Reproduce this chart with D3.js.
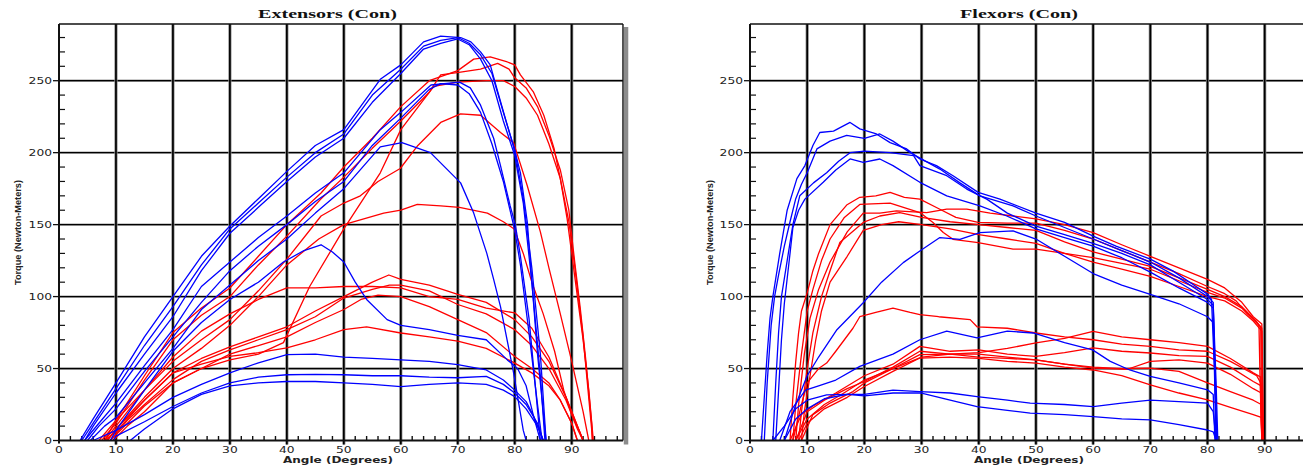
<!DOCTYPE html>
<html>
<head>
<meta charset="utf-8">
<script src="https://cdn.jsdelivr.net/npm/d3@7"></script>
<style>
  html, body { margin: 0; padding: 0; background: #fff; }
  svg { display: block; }
</style>
</head>
<body>
<svg id="chart" width="1303" height="465"></svg>
<script>
// Axis ticks
const angleTicks = [0, 10, 20, 30, 40, 50, 60, 70, 80, 90];
const torqueTicks = [0, 50, 100, 150, 200, 250];

// Extensor trials, [angle (deg), torque (N·m)]
const extensorBlue = [
  [[3.7,0],[6,15],[10,40],[15,72],[20,100],[25,128],[30,149],[35,168],[40,187],[45,205],[50,216],[56.4,251],[60,261],[64,277],[67,281],[70.5,280],[72.3,277],[74,270],[75.7,261],[76.9,244],[78.7,219],[80.1,200],[81,186],[82.2,152],[82.7,126],[84,60],[85.5,0]],
  [[4,0],[6,12],[10,36],[15,66],[20,93],[25,122],[30,147],[35,165],[40,183],[45,200],[50,213],[55,240],[60,258],[64,274],[67,278],[70,280],[72,276],[74,268],[76,255],[78,228],[80,202],[81.5,168],[83,120],[84.5,60],[85.5,0]],
  [[4.5,0],[6,10],[10,33],[15,60],[20,86],[25,118],[30,144],[35,162],[40,180],[45,197],[50,210],[55,235],[60,255],[64,272],[67,276],[70,279],[72,275],[74,265],[76,250],[78,222],[80,198],[81.5,165],[83,110],[84.5,45],[85.3,0]],
  [[4.5,0],[7,12],[10,26],[15,52],[20,77],[25,107],[30,124],[35,141],[40,156],[45,172],[50,186],[56.4,216],[60,228],[65.3,247],[70.3,249],[72.2,245],[74,233],[76.3,210],[77.5,191],[79.2,163],[80.1,150],[81,128],[82.5,85],[83.8,30],[84.5,0]],
  [[5,0],[7,10],[10,22],[15,48],[20,72],[25,96],[30,118],[35,135],[40,150],[45,166],[50,180],[55,205],[60,224],[65,244],[67,248],[70,247],[72,241],[74,228],[76,206],[78,180],[80,146],[81,122],[82.5,75],[84,25],[84.8,0]],
  [[5.5,0],[8,10],[10,16],[15,40],[20,64],[25,91],[30,108],[35,125],[40,140],[45,158],[50,175],[56.4,204],[60.2,207],[65.2,200],[70.5,179],[72.8,158],[75.1,130],[76.3,112],[77.5,93],[79.8,47],[81.5,7],[82,0]],
  [[6,0],[10,7],[15,35],[20,62],[25,82],[30,98],[35,110],[39.4,124],[43,132],[46,136],[48,131],[50,124],[52,110],[54,98],[57.6,84],[60,80],[65,77],[70,73],[75,70],[78.7,56],[80.5,50],[82,38],[83.3,17],[84.5,0]],
  [[9,0],[10,7],[15,18],[20,30],[25,39],[30,47],[35,54],[40,59.6],[45,60],[50,58],[55,57],[60,56],[65,55],[70,52.7],[75,49],[78,42],[80,35],[82,27],[83.3,17],[84.5,5],[85,0]],
  [[9.5,0],[10,3],[15,13],[20,23.6],[25,33],[30,40],[35,44],[40,45.7],[45,46],[50,45.7],[55,45],[60,45],[65,44],[70,43.6],[75,44.5],[78,39],[80,33],[82,25],[84,12],[85,0]],
  [[12.5,0],[15,8],[20,22],[25,32],[30,38],[35,40],[40,41],[45,41],[50,40],[55,39],[60,37.5],[65,39],[70,40],[75,39],[78,35],[80,30.5],[82,22],[84,10],[85,0]]
];
const extensorRed = [
  [[7,0],[10,14],[15,45],[20,75],[25,92],[30,106],[35,128],[40,150],[46,172],[50,190],[55,210],[60,232],[65,250],[70,257],[72.8,265],[75.7,266.5],[78.7,263],[80,261],[81,254],[83.3,242],[85.1,226],[86.9,203],[88,182],[89.2,154],[90,130],[91,100],[92,70],[93,35],[93.8,0]],
  [[7.5,0],[10,12],[15,42],[20,70],[25,87],[30,100],[35,122],[40,142],[46,168],[50,183],[55,203],[60,222],[65,242],[67,254],[70.5,256],[74,258],[77,262],[79,258],[80,252],[82,245],[84,232],[86,212],[88,188],[89.5,160],[90.5,125],[91.5,92],[92.5,55],[93.5,12],[93.7,0]],
  [[9,0],[12,12],[15,24],[20,40],[25,50],[30,56],[35,60],[39.4,68],[44,107],[50,147],[56.4,186],[60,216],[65.8,246],[70,249],[75,250],[78,250],[80,246],[82,238],[84,226],[86,206],[88,182],[89.5,152],[90.5,122],[92,72],[93.5,8],[93.6,0]],
  [[8,0],[10,10],[15,35],[20,55],[25,70],[30,84],[35,104],[40,126],[46,156],[50,165],[52.9,170],[56,180],[59.9,189],[63,205],[67,221],[70.5,227],[74,226],[77.5,214],[79.8,207],[82.2,177],[84.5,145],[86,120],[88,88],[90,55],[92,20],[93,0]],
  [[8.5,0],[10,8],[15,30],[20,50],[25,64],[30,80],[35,100],[40,122],[45.6,140],[50,150],[57,158],[60,160],[62.9,164],[67,163],[70.3,162],[75.2,158],[78,152],[79.9,147],[81.5,130],[83,110],[85,88],[87,62],[88.6,35],[90,18],[91.5,5],[92,0]],
  [[8,0],[10,14],[15,35],[20,58],[25,76],[30,88],[35,98],[40,106],[45,106],[50,107],[55,107],[60,106],[65,100],[70,98],[75,92],[80,88.7],[83,78],[86,58],[89,30],[91,10],[92,0]],
  [[8.5,0],[10,8],[15,28],[20,47],[25,57],[30,65],[35,72],[40,79],[45,90],[50,100],[55,110],[57.9,115],[60,112],[65,108],[70,101.5],[75,96],[80,84],[83,72],[86,55],[89,30],[91,10],[92,0]],
  [[9,0],[12,14],[15,25],[20,42.3],[25,55],[30,63],[35,70],[40,77],[45,86],[50,99],[55,105],[58,108],[60,108],[65,104],[70,94.5],[75,88],[80,77],[83,66],[86,50],[89,28],[91,8],[92,0]],
  [[9.5,0],[12,10],[15,20],[20,40],[25,50],[30,60],[35,66],[40,72],[45,82],[50,91],[53,98],[56,101],[60,100],[65,93],[70,84],[75,75],[80,58.4],[83,50],[86,40],[88,28],[90,12],[91,0]],
  [[8,0],[10,6],[15,28],[20,46.9],[25,53],[30,58.4],[35,61],[40,64.3],[45,70],[50,77],[54,79],[60,74.7],[65,72],[70,69],[75,64],[80,53.8],[83,47],[86,38],[88,28],[90,12],[91,0]]
];

// Flexor trials, [angle (deg), torque (N·m)]
const flexorBlue = [
  [[2,0],[2.5,30],[3,60],[3.5,85],[4,100],[5.2,130],[6.5,160],[8.2,182],[9.6,191],[11,205],[12.2,214],[14.6,215],[17.5,221],[19.2,216.5],[22.1,213],[24.5,207],[27.4,202.6],[29.7,195.6],[32.6,191],[35.5,184],[39.9,172.4],[43.7,167.7],[50,158],[55,151.5],[60,142],[64,135],[70,126],[74,117.7],[78,107],[80,101.7],[80.7,98],[81.2,50],[81.5,0]],
  [[2.5,0],[3,40],[3.7,80],[4.3,100],[5,115],[6,135],[7,152],[8,168],[9,178],[10,186],[11.7,202.6],[14,208],[16.9,212],[20,210],[22.7,213],[25,208],[28,200],[33.2,188.6],[36.7,179],[40.2,170],[46,163],[50,156],[55,148],[60,140],[65,132],[70,124],[75,113],[80,100],[81,96],[81.3,40],[81.6,0]],
  [[4,0],[4.5,40],[5,75],[5.5,100],[6.5,125],[7.5,150],[8.7,170],[11.1,179],[13.4,186],[15.5,194],[17.5,200],[20,201],[24.5,200],[28.6,198],[29.7,191],[34.4,184],[37.9,174.7],[41.4,167.7],[45,158],[50,149],[55,143],[60,137],[65,130],[70,122],[75,110],[80,98],[81,94],[81.5,40],[81.8,0]],
  [[4.5,0],[5,35],[5.5,70],[6,95],[7,130],[7.5,148],[8.5,160],[9.6,167.7],[12.8,179.4],[15,188],[17.5,195.6],[19.8,193.3],[22.7,195.6],[25,191],[29.7,179.4],[34.4,170],[40.2,163],[44.9,156],[50,147],[55,141],[60,135],[65,127],[70,117],[75,106],[80,96],[81,92],[81.4,40],[81.6,0]],
  [[6,0],[8,25],[10,45],[12,58],[15.2,77],[19.8,95.7],[23,110],[26.8,123.6],[29.7,131.7],[33.2,141],[36.7,139.8],[40.2,144.5],[46,145.6],[50,140],[55,128],[60,116],[65,108],[70,101.5],[75,95],[80,86],[81,82],[81.4,30],[81.5,0]],
  [[5.2,0],[7,20],[9.7,35],[12,38],[15,42],[19.2,51.5],[25,60],[29.7,70],[34.4,76],[39.7,71.3],[45,76],[49.5,74.7],[55,68],[59.9,63],[63,55],[66.4,49],[70,44.5],[75,40],[80,35.2],[81,32],[81.3,0]],
  [[4,0],[6,10],[8,22],[10,28],[13.4,31.7],[17,32],[20,32],[25,35],[29.7,34],[35,33],[39.7,30.5],[45,28],[49,26],[55,25],[60,23.6],[65,26],[70,28],[75,27],[80,26],[81,20],[81.5,0]],
  [[6,0],[8,15],[10,22],[13,29],[17,32],[20,31],[25,33],[30,33],[35,28],[39.7,23.6],[45,21],[49,19],[55,18],[60,16.6],[65,15],[70,14.3],[75,11],[80,7.3],[81,6],[81.5,0]]
];
const flexorRed = [
  [[7,0],[7.5,30],[8,55],[8.5,75],[9,90],[10,102.6],[11,118],[12,130],[14,150],[16.9,163.6],[19.2,169],[22,170],[24.5,172.4],[27,169],[29.7,167.7],[33.2,160.7],[36,155],[39.9,151.5],[45,151],[50,151],[55,146],[60,140],[65,132],[70,124],[75,116],[80,107],[83,102],[85,97],[87,88],[88.5,83],[89,80],[89.2,40],[89.5,0]],
  [[7.5,0],[8,25],[9,60],[10,90],[11,105],[12.5,125],[14,140],[16.5,155],[19.2,164],[24.5,165],[29.7,158.4],[32,151.5],[33.8,144.5],[35.5,139.8],[39.9,137.5],[46,133],[50,133],[55,130],[60,127],[65,123],[70,119],[75,111],[80,103],[83,99],[86,92],[88,84],[89.3,79],[89.5,0]],
  [[8,0],[8.5,25],[9.5,60],[10.5,85],[12,105],[14,124],[17,145],[19.8,158],[22.7,158],[25.6,159.6],[30.9,158.4],[34.4,160.7],[37.9,160.7],[42,158],[46,156],[50,154],[55,150],[60,144.5],[65,136],[70,128],[75,120],[80,112],[83,106],[86,96],[88,86],[89.5,81],[89.7,0]],
  [[8.5,0],[9,20],[10,50],[11,75],[12.5,100],[14,118],[15.7,137.5],[19.8,151.5],[22.7,156],[26.2,158.4],[30,155],[35,152],[40,150],[45,148],[50,146],[55,138],[60,131],[65,126],[70,121],[75,113],[80,105],[83,100],[86,93],[88,85],[89.5,78],[89.7,0]],
  [[9,0],[9.5,20],[10.5,45],[11.5,70],[12.5,90],[14,110],[17,128],[19.8,146],[23,150],[26,152],[30,150],[35,147],[40,143],[45,140],[50,137],[55,130],[60,124],[65,119],[70,114],[75,107],[80,100],[83,97],[86,90],[88,83],[89.5,76],[89.8,0]],
  [[7.5,0],[9,25],[10,40],[12,50],[13.4,53.8],[15,62],[18,78],[19.2,86],[22,89],[25,92],[28,89],[29.7,87.5],[33,86],[38.5,84],[39.7,79],[45,78],[50,74.7],[55,72],[60,70],[65,67],[70,65.4],[75,63],[80,62],[84,55],[88.6,45],[89.3,40],[89.5,0]],
  [[8,0],[10,15],[13,25],[16,32],[20,42],[25,50],[30,58],[35,60],[40,61],[45,64],[50,67.8],[55,71],[60,75.9],[65,72],[70,70],[75,68],[80,65.4],[84,57],[88,47],[89.3,44],[89.5,0]],
  [[7,0],[9,18],[11,24],[15,33],[20,45],[25,53],[29.7,65.4],[35,62],[40,63],[45,60],[50,58.5],[55,61],[60,64.3],[65,62],[70,60.8],[75,59],[80,58.5],[84,51],[88,41],[89.4,38],[89.5,0]],
  [[8,0],[10,20],[13,28],[17,36],[20,41],[25,51],[29.7,62],[35,60],[40,58],[45,57],[50,56],[55,53],[60,50.3],[63,50],[66,49.5],[70,55],[75,56],[80,53.8],[84,46],[88,36],[89.4,33],[89.5,0]],
  [[8.5,0],[10,12],[13,22],[17,30],[20,37.5],[25,48],[29.7,57.3],[35,58],[40,57],[45,55],[50,53.8],[55,51],[60,49],[65,45],[70,38.7],[75,33],[80,28.2],[84,23],[88,18],[89.4,16],[89.5,0]],
  [[9,0],[11,18],[14,26],[18,34],[20,40],[25,50],[29.7,59.7],[35,60],[40,60],[45,58],[50,56],[55,53],[60,51],[65,50],[70,50.3],[75,48],[80,40],[84,34],[88,28],[89.4,25],[89.5,0]]
];

// Panel layout
const panels = [
  { title: "Extensors (Con)", blue: extensorBlue, red: extensorRed,
    x0: 59, x90: 571.7, titleX: 327.5, titleW: 139, yLabelX: 18, closed: true },
  { title: "Flexors (Con)", blue: flexorBlue, red: flexorRed,
    x0: 750, x90: 1264.7, titleX: 1019, titleW: 118, yLabelX: 710, closed: false }
];

const svg = d3.select("#chart");
const plotTop = 24;
const angleMax = 99;
const y = d3.scaleLinear().domain([0, 250]).range([440.5, 80.7]);
const plotBottom = y(0);

panels.forEach(p => {
  const x = d3.scaleLinear().domain([0, 90]).range([p.x0, p.x90]);
  const xRight = x(angleMax);
  const g = svg.append("g");

  // drop shadow on the right edge of the frame
  if (p.closed) {
    g.append("rect")
      .attr("x", xRight + 0.8).attr("y", plotTop + 3)
      .attr("width", 4.5).attr("height", plotBottom - plotTop + 1)
      .attr("fill", "#8c8c8c");
  }

  // horizontal grid
  const hTicks = torqueTicks.filter(t => t > 0);
  [["#9a9a9a", 2.4], ["#000", 1.2]].forEach(([c, w]) => {
    g.selectAll(null).data(hTicks).join("line")
      .attr("x1", x(0)).attr("x2", xRight)
      .attr("y1", d => y(d)).attr("y2", d => y(d))
      .attr("stroke", c).attr("stroke-width", w);
  });

  // vertical grid
  const vTicks = angleTicks.filter(t => t > 0);
  [["#8f8f8f", 3.2], ["#000", 1.7]].forEach(([c, w]) => {
    g.selectAll(null).data(vTicks).join("line")
      .attr("x1", d => x(d)).attr("x2", d => x(d))
      .attr("y1", plotTop).attr("y2", plotBottom + 4)
      .attr("stroke", c).attr("stroke-width", w);
  });

  // minor ticks on the torque axis (inside), every 10
  g.selectAll(null).data(d3.range(10, 290, 10).filter(v => v % 50 !== 0)).join("line")
    .attr("x1", x(0)).attr("x2", x(0) + 6)
    .attr("y1", d => y(d)).attr("y2", d => y(d))
    .attr("stroke", "#111").attr("stroke-width", 1.2);
  // major ticks on the torque axis (outside)
  g.selectAll(null).data(torqueTicks).join("line")
    .attr("x1", x(0) - 6).attr("x2", x(0))
    .attr("y1", d => y(d)).attr("y2", d => y(d))
    .attr("stroke", "#111").attr("stroke-width", 1.3);

  // minor ticks on the angle axis (inside), every 2 degrees
  g.selectAll(null).data(d3.range(2, angleMax, 2).filter(v => v % 10 !== 0)).join("line")
    .attr("x1", d => x(d)).attr("x2", d => x(d))
    .attr("y1", plotBottom).attr("y2", plotBottom - 4.5)
    .attr("stroke", "#111").attr("stroke-width", 1.4);

  // curves
  const line = d3.line().x(d => x(d[0])).y(d => y(d[1]));
  const drawSet = (set, color) => {
    g.append("g").selectAll("path").data(set).join("path")
      .attr("d", line)
      .attr("fill", "none")
      .attr("stroke", color)
      .attr("stroke-width", 1.3)
      .attr("stroke-linejoin", "round");
  };
  drawSet(p.red, "#ff0000");
  drawSet(p.blue, "#0000ff");

  // frame
  g.append("line").attr("x1", x(0)).attr("x2", xRight)
    .attr("y1", plotTop).attr("y2", plotTop)
    .attr("stroke", "#111").attr("stroke-width", 1.4);
  g.append("line").attr("x1", x(0)).attr("x2", x(0))
    .attr("y1", plotTop).attr("y2", plotBottom + 3)
    .attr("stroke", "#111").attr("stroke-width", 2);
  g.append("line").attr("x1", x(0)).attr("x2", xRight)
    .attr("y1", plotBottom).attr("y2", plotBottom)
    .attr("stroke", "#111").attr("stroke-width", 2);
  if (p.closed) {
    g.append("line").attr("x1", xRight).attr("x2", xRight)
      .attr("y1", plotTop).attr("y2", plotBottom)
      .attr("stroke", "#111").attr("stroke-width", 1.4);
  }

  // tick labels
  g.selectAll(null).data(torqueTicks).join("text")
    .attr("x", x(0) - 7).attr("y", d => y(d) + 3)
    .attr("text-anchor", "end")
    .attr("font-family", "DejaVu Sans, sans-serif").attr("font-size", 9)
    .attr("fill", "#222")
    .attr("textLength", d => String(d).length * 7.8)
    .attr("lengthAdjust", "spacingAndGlyphs")
    .text(d => d);
  g.selectAll(null).data(angleTicks).join("text")
    .attr("x", d => x(d)).attr("y", plotBottom + 12.5)
    .attr("text-anchor", "middle")
    .attr("font-family", "DejaVu Sans, sans-serif").attr("font-size", 9)
    .attr("fill", "#222")
    .attr("textLength", d => String(d).length * 7.8)
    .attr("lengthAdjust", "spacingAndGlyphs")
    .text(d => d);

  // titles
  g.append("text")
    .attr("x", p.titleX).attr("y", 18)
    .attr("text-anchor", "middle")
    .attr("font-family", "Liberation Serif, serif").attr("font-weight", "bold")
    .attr("font-size", 12.5).attr("fill", "#111")
    .attr("textLength", p.titleW).attr("lengthAdjust", "spacingAndGlyphs")
    .text(p.title);
  g.append("text")
    .attr("x", x(0) + 279).attr("y", 463)
    .attr("text-anchor", "middle")
    .attr("font-family", "DejaVu Sans, sans-serif").attr("font-weight", "bold")
    .attr("font-size", 8.5).attr("fill", "#222")
    .attr("textLength", 110).attr("lengthAdjust", "spacingAndGlyphs")
    .text("Angle (Degrees)");
  g.append("text")
    .attr("transform", `translate(${p.yLabelX + 3},232.5) rotate(-90)`)
    .attr("text-anchor", "middle")
    .attr("font-family", "Liberation Sans, sans-serif").attr("font-weight", "bold")
    .attr("font-size", 9).attr("fill", "#222")
    .attr("textLength", 105).attr("lengthAdjust", "spacingAndGlyphs")
    .text("Torque (Newton-Meters)");
});
</script>
</body>
</html>
